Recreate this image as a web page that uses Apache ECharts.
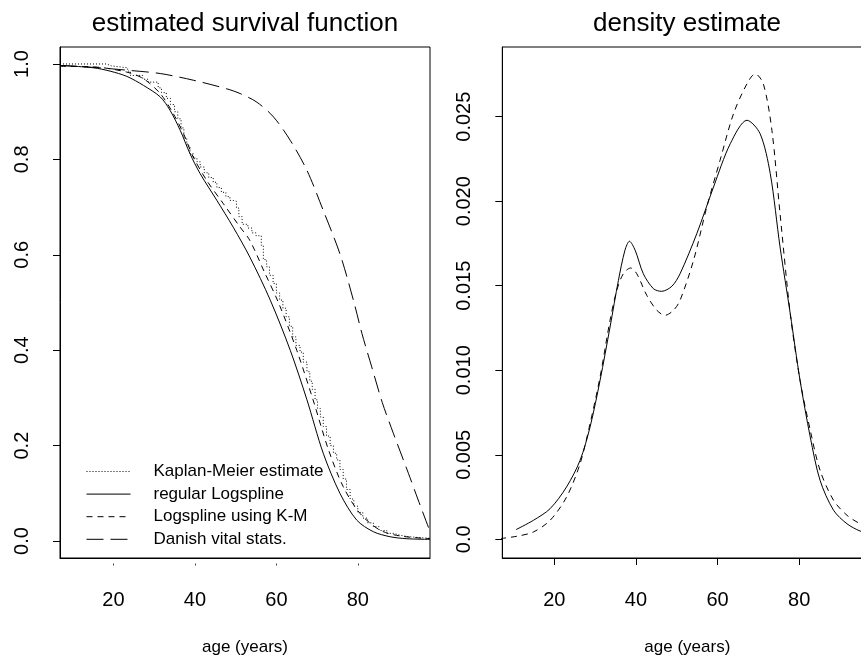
<!DOCTYPE html>
<html><head><meta charset="utf-8">
<script src="https://cdn.jsdelivr.net/npm/echarts@6/dist/echarts.min.js"></script>
<style>html,body{margin:0;padding:0;background:#fff}#c{width:861px;height:656px}</style>
</head><body><div id="c"></div>
<script>
// ---- data ----
const kmPoints = [[6.9,1.0],[18.4,0.996],[19.5,0.992],[23.5,0.985],[24.2,0.976],[27.2,0.968],[28.5,0.962],[31.0,0.950],[31.8,0.940],[33.0,0.928],[34.0,0.915],[35.0,0.900],[35.8,0.885],[36.6,0.866],[37.3,0.845],[38.0,0.828],[38.8,0.812],[39.6,0.803],[40.5,0.795],[41.3,0.784],[42.3,0.772],[43.4,0.762],[44.5,0.752],[45.4,0.741],[46.5,0.731],[47.6,0.722],[48.6,0.714],[49.4,0.712],[50.2,0.698],[50.8,0.680],[51.6,0.664],[53.0,0.656],[54.0,0.646],[55.0,0.640],[56.3,0.620],[56.8,0.590],[57.6,0.575],[58.3,0.557],[59.2,0.540],[60.0,0.520],[60.8,0.505],[61.6,0.488],[62.4,0.470],[63.2,0.450],[64.0,0.428],[64.8,0.410],[65.8,0.396],[66.6,0.375],[67.5,0.355],[68.2,0.335],[68.8,0.318],[69.5,0.296],[70.1,0.278],[70.8,0.260],[71.5,0.240],[72.3,0.220],[73.2,0.200],[74.0,0.184],[74.8,0.170],[75.6,0.150],[76.4,0.130],[77.2,0.108],[78.1,0.088],[79.0,0.073],[80.0,0.060],[81.2,0.048],[82.4,0.038],[83.8,0.030],[85.2,0.022],[87.1,0.016],[88.8,0.012],[90.4,0.009],[92.5,0.007],[95.3,0.0057],[97.7,0.005]];
const logsplinePoints = [[6.9,0.997],[15.1,0.992],[19.2,0.985],[23.3,0.974],[27.4,0.955],[31.5,0.931],[33.9,0.903],[36.4,0.861],[38.8,0.812],[41.3,0.770],[45.4,0.714],[49.4,0.658],[53.5,0.595],[58.5,0.505],[63.4,0.400],[67.5,0.296],[71.5,0.184],[75.6,0.100],[79.7,0.044],[83.8,0.0195],[87.9,0.009],[92.0,0.0048],[97.7,0.0035]];
const logsplineKMPoints = [[6.9,0.995],[15.1,0.994],[23.3,0.983],[27.4,0.969],[31.5,0.938],[34.7,0.896],[37.2,0.854],[39.6,0.805],[42.9,0.756],[47.0,0.707],[51.1,0.658],[53.5,0.630],[57.0,0.565],[60.5,0.500],[65.0,0.400],[69.0,0.296],[72.8,0.191],[76.4,0.114],[80.5,0.058],[85.4,0.023],[90.4,0.0105],[97.7,0.005]];
const danishPoints = [[6.9,0.997],[15.0,0.993],[23.3,0.987],[31.5,0.980],[39.6,0.966],[47.8,0.948],[51.1,0.938],[55.2,0.920],[59.3,0.889],[63.4,0.840],[67.5,0.777],[71.5,0.693],[75.6,0.602],[78.9,0.505],[81.0,0.435],[83.4,0.365],[86.0,0.290],[88.7,0.226],[92.4,0.142],[94.8,0.086],[97.7,0.020]];
const densityRegular = [[10.6,0.00057],[14.85,0.00112],[18.95,0.00181],[23.0,0.0031],[26.3,0.00467],[28.75,0.00664],[31.2,0.0094],[33.65,0.01256],[35.7,0.01532],[37.3,0.0171],[38.4,0.01763],[39.8,0.0171],[41.8,0.01571],[44.3,0.01482],[46.3,0.01467],[48.8,0.01497],[50.8,0.01571],[54.9,0.01808],[59.0,0.02084],[63.1,0.0234],[67.2,0.02479],[70.4,0.024],[72.9,0.02163],[75.3,0.01729],[77.8,0.01335],[80.2,0.0094],[82.7,0.00605],[85.1,0.00349],[88.4,0.00172],[91.7,0.00092],[94.9,0.00049],[97.9,0.0003]];
const densityKM = [[6.7,0.00004],[10.8,0.00018],[14.85,0.00043],[18.95,0.00112],[23.0,0.0025],[26.3,0.00447],[28.75,0.00684],[31.2,0.0096],[33.65,0.01296],[35.3,0.01473],[36.9,0.01571],[38.7,0.01605],[40.2,0.01571],[42.65,0.01443],[45.1,0.01355],[47.1,0.01325],[49.2,0.01355],[50.8,0.01414],[54.1,0.0165],[57.35,0.01966],[60.6,0.02242],[63.9,0.02518],[67.2,0.02695],[69.2,0.02754],[71.2,0.02695],[73.3,0.0242],[75.3,0.01926],[77.8,0.01335],[80.2,0.0094],[82.7,0.00645],[85.1,0.00408],[88.4,0.00231],[91.7,0.00142],[94.9,0.00092],[97.9,0.0006]];
const xTicks = [20,40,60,80];
const xTickLabels = ['20','40','60','80'];
const survTicks = [0,0.2,0.4,0.6,0.8,1.0];
const survTickLabels = ['0.0','0.2','0.4','0.6','0.8','1.0'];
const densTicks = [0,0.005,0.01,0.015,0.02,0.025];
const densTickLabels = ['0.0','0.005','0.010','0.015','0.020','0.025'];
const legendNames = ['Kaplan-Meier estimate','regular Logspline','Logspline using K-M','Danish vital stats.'];
const titles = ['estimated survival function','density estimate'];
const xLabel = 'age (years)';

// ---- chart ----
const FONT = 'Liberation Sans, Arial, Helvetica, sans-serif';
function lookup(ticks, labels){
  return v => { for (let i=0;i<ticks.length;i++) if (Math.abs(ticks[i]-v)<1e-9) return labels[i]; return ''; };
}
const blk = '#000';
function xAxisCfg(grid, min, max, opts){
  return Object.assign({
    type:'value', gridIndex:grid, min:min, max:max,
    axisLine:{show:true, onZero:false, lineStyle:{color:blk,width:1}},
    axisTick:{show:true, length:7, customValues:xTicks, lineStyle:{color:blk}},
    axisLabel:{show:true, customValues:xTicks, formatter:lookup(xTicks,xTickLabels), margin:32,
      fontSize:20, color:blk, fontFamily:FONT},
    splitLine:{show:false},
    name:xLabel, nameLocation:'middle', nameGap:81,
    nameTextStyle:{fontSize:17, color:blk, fontFamily:FONT}
  }, opts||{});
}
function yAxisCfg(grid, min, max, ticks, labels){
  return {
    type:'value', gridIndex:grid, min:min, max:max,
    axisLine:{show:true, onZero:false, lineStyle:{color:blk,width:1}},
    axisTick:{show:true, length:7, customValues:ticks, lineStyle:{color:blk}},
    axisLabel:{show:true, customValues:ticks, formatter:lookup(ticks,labels), rotate:90, margin:28,
      fontSize:20, color:blk, fontFamily:FONT},
    splitLine:{show:false}
  };
}
function lineSeries(name, data, xi, yi, type, extra){
  return Object.assign({
    name:name, type:'line', data:data, xAxisIndex:xi, yAxisIndex:yi,
    symbol:'none', showSymbol:false, smooth:0.3, clip:true,
    lineStyle:{color:blk, width:1, type:type}, itemStyle:{color:blk},
    emphasis:{disabled:true}
  }, extra||{});
}

const chart = echarts.init(document.getElementById('c'), null, {renderer:'canvas'});
chart.setOption({
  animation:false,
  backgroundColor:'#fff',
  textStyle:{fontFamily:FONT},
  title:[
    {text:titles[0], left:245, top:11, textAlign:'center', padding:0,
      textStyle:{fontSize:26, fontWeight:'normal', color:blk, fontFamily:FONT}},
    {text:titles[1], left:687, top:11, textAlign:'center', padding:0,
      textStyle:{fontSize:26, fontWeight:'normal', color:blk, fontFamily:FONT}}
  ],
  grid:[
    {left:60, top:47, width:370, height:511, show:true, borderColor:blk, borderWidth:1,
      backgroundColor:'transparent', containLabel:false, outerBoundsMode:'none'},
    {left:502.3, top:47, width:370, height:511, show:true, borderColor:blk, borderWidth:1,
      backgroundColor:'transparent', containLabel:false, outerBoundsMode:'none'}
  ],
  xAxis:[
    xAxisCfg(0, 6.9, 97.7, {axisTick:{show:true, length:8, customValues:xTicks,
      lineStyle:{color:'#444', type:[0,5.5,2,20]}}}),
    xAxisCfg(1, 7.25, 97.9)
  ],
  yAxis:[
    yAxisCfg(0, -0.0356, 1.0356, survTicks, survTickLabels),
    yAxisCfg(1, -0.001106, 0.029123, densTicks, densTickLabels)
  ],
  legend:{
    data:legendNames, orient:'vertical', left:86, top:463, padding:0,
    itemWidth:44, itemHeight:14, itemGap:5.6, selectedMode:false,
    itemStyle:{color:'rgba(0,0,0,0)', borderWidth:0, borderColor:'rgba(0,0,0,0)'},
    lineStyle:{width:1},
    textStyle:{fontSize:17, color:blk, fontFamily:FONT, padding:[0,0,0,18]}
  },
  series:[
    lineSeries(legendNames[0], kmPoints, 0, 0, [1,2], {step:'end', smooth:false}),
    lineSeries(legendNames[1], logsplinePoints, 0, 0, 'solid'),
    lineSeries(legendNames[2], logsplineKMPoints, 0, 0, [6,5]),
    lineSeries(legendNames[3], danishPoints, 0, 0, [17,7]),
    lineSeries('density (regular Logspline)', densityRegular, 1, 1, 'solid'),
    lineSeries('density (Logspline using K-M)', densityKM, 1, 1, [6,5])
  ]
});
</script></body></html>
